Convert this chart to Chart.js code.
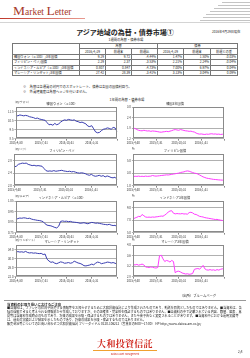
<!DOCTYPE html>
<html lang="ja">
<head>
<meta charset="utf-8">
<title>Market Letter</title>
<script src="https://cdn.jsdelivr.net/npm/chart.js@4.4.0/dist/chart.umd.min.js"></script>
<style>
  html, body { margin: 0; padding: 0; background: #fff; }
  body { width: 250px; height: 358px; position: relative; overflow: hidden;
         font-family: "Noto Sans CJK JP", "Noto Sans", sans-serif; color: #222; }
  .abs { position: absolute; white-space: nowrap; }
  .logo-head { left: 13px; top: 3px; font-family: "Liberation Serif", serif; color: #a83a2c; font-size: 9.5px; }
  .logo-head b { font-weight: normal; font-size: 13.5px; }
  .redline { left: 0; top: 18px; width: 85px; height: 1px; background: linear-gradient(to right, #c0392b, #e89a90); }
  .grayline { left: 0; top: 22px; width: 250px; height: 1px; background: #d4d4d4; }
  .stripe { height: 1px; background: #c4c4c4; }
  .title { left: 0; width: 250px; top: 27px; text-align: center; font-size: 7px; font-weight: bold; }
  .date { left: 212px; top: 29px; font-size: 3.2px; }
  .small { font-size: 3.3px; }
  table { position: absolute; left: 12px; top: 43px; width: 225px; border-collapse: collapse;
          font-size: 3.2px; table-layout: fixed; }
  td { border: 1px solid #777; height: 4.4px; padding: 0 1px; line-height: 4px; text-align: right; overflow: hidden; white-space: nowrap; }
  td.c { text-align: center; }
  td.l { text-align: left; }
  canvas { position: absolute; }
  .unit { font-size: 2.8px; color: #333; }
  .foot { left: 7px; top: 306px; width: 237px; font-size: 3.1px; line-height: 4.1px; white-space: normal; }
  .daiwa { left: 0; width: 250px; top: 337px; text-align: center; font-family: "Noto Serif CJK JP", "Liberation Serif", serif;
           font-weight: bold; font-size: 9px; color: #d0251c; letter-spacing: 0.3px; }
</style>
</head>
<body>
<div class="abs logo-head"><b>M</b>arket <b>L</b>etter</div>
<div class="abs redline"></div>
<div class="abs grayline"></div>
<div class="abs stripe" style="left:222px;top:2px;width:28px"></div>
<div class="abs stripe" style="left:218px;top:5px;width:32px"></div>
<div class="abs stripe" style="left:214px;top:8px;width:36px"></div>
<div class="abs stripe" style="left:210px;top:11px;width:40px"></div>
<div class="abs stripe" style="left:206px;top:14px;width:44px"></div>
<div class="abs stripe" style="left:203px;top:17px;width:47px"></div>
<div class="abs stripe" style="left:200px;top:20px;width:50px"></div>

<div class="abs title">アジア地域の為替・債券市場①</div>
<div class="abs date">2016年4月29日現在</div>
<div class="abs small" style="left:0;width:252px;top:37px;text-align:center">1週間の為替・債券市場</div>

<table id="tbl">
  <colgroup>
    <col style="width:67px"><col style="width:26px"><col style="width:26px"><col style="width:26px">
    <col style="width:26px"><col style="width:27px"><col style="width:27px">
  </colgroup>
  <tr><td rowspan="2"></td><td class="c" colspan="3">為替</td><td class="c" colspan="3">債券</td></tr>
  <tr><td class="c">2016/4/29</td><td class="c">前週末</td><td class="c">前週比</td><td class="c">2016/4/29</td><td class="c">前週末</td><td class="c">前週との差</td></tr>
</table>

<div class="abs small" style="left:23px;top:84px">※　為替は各通貨の対円でのスポットレート、債券は各国の国債利回り。</div>
<div class="abs small" style="left:23px;top:89px">※　外貨建資産は為替ヘッジを行いません。</div>
<div class="abs small" style="left:0;width:254px;top:97px;text-align:center">1年間の為替・債券市場</div>

<div id="charts"></div>

<div class="abs small" style="left:180px;top:293px">（出所）ブルームバーグ</div>
<div class="abs" style="left:4px;top:300px;width:242px;height:1px;background:#999"></div>
<div class="abs" style="left:7px;top:302px;font-size:3.4px;font-weight:bold">当資料のお取り扱いにおけるご注意</div>
<div class="abs foot">■当資料は、ファンドの状況や関連する情報等をお知らせするために大和投資信託により作成されたものであり、勧誘を目的としたものではありません。■当資料は、各種の信頼できると考えられる情報源から作成しておりますが、その正確性・完全性を保証するものではありません。■当資料の中で記載されている内容、数値、図表、意見等は当資料作成時点のものであり、将来の成果を示唆・保証するものではありません。また今後予告なく変更されることがあります。■当資料中における運用実績等は、過去の実績および結果を示したものであり、将来の成果を示唆・保証するものではありません。<br>販売会社等についてのお問い合わせ⇒大和投資信託 フリーダイヤル 0120-106212（営業日の9:00～17:00） HP http://www.daiwa-am.co.jp/</div>
<div class="abs daiwa">大和投資信託</div>
<div class="abs" style="left:93px;top:350px;width:64px;height:1px;background:#f0a030"></div>
<div class="abs" style="left:0;width:250px;top:352px;text-align:center;font-size:2.4px;color:#d0251c">Daiwa Asset Management</div>
<div class="abs" style="left:238px;top:350px;font-size:3px">2/8</div>

<script>
// 1週間の為替・債券市場
const tableRows = ['韓国ウォン（×100）/3年国債', 'フィリピン・ペソ/国債', 'インドネシア・ルピア（×100）/3年国債', 'マレーシア・リンギット/3年国債'];
const fxNow = ['9.29', '2.29', '0.807', '27.42'];
const fxPrev = ['9.72', '2.37', '0.847', '28.39'];
const fxChg = ['-4.44%', '-3.53%', '-4.73%', '-3.41%'];
const bondNow = ['1.47%', '2.21%', '7.00%', '3.13%'];
const bondPrev = ['1.50%', '2.24%', '6.97%', '3.04%'];
const bondChg = ['-0.03%', '-0.04%', '0.04%', '0.09%'];

// 1年間（週次）の推移
const tickLabels = ['2015/4/30', '2015/7/31', '2015/10/31', '2016/1/31'];
const krw = [11.10, 11.05, 11.15, 11.10, 11.05, 11.10, 11.05, 10.95, 10.90, 10.85, 10.75, 10.80, 10.70, 10.65,
  10.60, 10.55, 10.30, 10.05, 10.10, 10.00, 10.20, 10.05, 10.15, 10.35, 10.50, 10.60, 10.55, 10.65, 10.60, 10.55, 10.60,
  10.45, 10.40, 10.30, 10.35, 10.25, 10.15, 9.90, 9.85, 9.95, 9.60, 9.25, 9.15, 9.20, 9.40, 9.55, 9.60, 9.70, 9.65,
  9.55, 9.75, 9.70, 9.29];
const krBond = [1.80, 1.78, 1.72, 1.68, 1.66, 1.65, 1.68, 1.66, 1.64, 1.65, 1.62, 1.64, 1.63, 1.62,
  1.60, 1.58, 1.57, 1.59, 1.60, 1.62, 1.60, 1.63, 1.66, 1.70, 1.72, 1.70, 1.68, 1.72, 1.70, 1.67, 1.65,
  1.64, 1.62, 1.63, 1.60, 1.58, 1.52, 1.48, 1.46, 1.47, 1.45, 1.44, 1.46, 1.45, 1.47, 1.48, 1.46, 1.47, 1.45,
  1.46, 1.44, 1.45, 1.47];
const php = [2.60, 2.62, 2.68, 2.70, 2.72, 2.71, 2.72, 2.68, 2.66, 2.64, 2.65, 2.63, 2.64, 2.63,
  2.62, 2.55, 2.48, 2.46, 2.47, 2.46, 2.48, 2.46, 2.47, 2.48, 2.49, 2.47, 2.46, 2.45, 2.46, 2.44, 2.45,
  2.43, 2.41, 2.40, 2.41, 2.40, 2.38, 2.35, 2.33, 2.36, 2.32, 2.30, 2.31, 2.33, 2.30, 2.32, 2.28, 2.31, 2.29,
  2.26, 2.25, 2.27, 2.20];
const phBond = [2.45, 2.50, 2.48, 2.52, 2.47, 2.50, 2.46, 2.52, 2.48, 2.50, 2.52, 2.62, 2.55, 2.52,
  2.55, 2.58, 2.62, 2.65, 2.68, 2.72, 2.70, 2.75, 2.80, 2.85, 2.90, 2.95, 3.00, 3.10, 3.15, 3.20, 3.30,
  3.35, 3.30, 3.20, 3.10, 3.00, 2.95, 2.85, 2.70, 2.55, 2.40, 2.30, 2.20, 2.15, 2.10, 2.05, 2.00, 1.98, 1.95,
  1.92, 1.90, 1.88, 1.85];
const idr = [0.875, 0.885, 0.890, 0.888, 0.892, 0.890, 0.885, 0.888, 0.880, 0.875, 0.872, 0.868, 0.866, 0.862,
  0.855, 0.835, 0.822, 0.818, 0.815, 0.808, 0.800, 0.795, 0.812, 0.858, 0.862, 0.858, 0.860, 0.855, 0.858, 0.852, 0.850,
  0.848, 0.845, 0.840, 0.842, 0.845, 0.840, 0.835, 0.842, 0.848, 0.845, 0.840, 0.842, 0.838, 0.835, 0.830, 0.828, 0.825, 0.830,
  0.822, 0.818, 0.820, 0.807];
const idBond = [7.20, 7.35, 7.45, 7.60, 7.55, 7.90, 7.70, 7.50, 7.45, 7.48, 7.45, 7.50, 7.47, 7.52,
  7.55, 7.60, 7.65, 7.62, 7.80, 8.00, 8.30, 8.45, 8.50, 8.10, 8.00, 8.05, 8.02, 8.00, 8.05, 7.98, 8.00,
  7.95, 8.20, 8.25, 8.15, 7.95, 7.90, 7.75, 7.60, 7.55, 7.50, 7.40, 7.35, 7.30, 7.25, 7.20, 7.15, 7.10, 7.12,
  7.05, 7.00, 6.95, 6.90];
const myr = [33.0, 33.2, 33.0, 33.1, 32.9, 33.3, 32.8, 32.6, 32.7, 32.5, 32.6, 32.4, 32.3, 32.4,
  31.9, 32.1, 29.8, 29.0, 28.4, 28.6, 28.0, 27.8, 28.2, 28.6, 28.4, 28.0, 28.1, 28.3, 28.0, 28.2, 28.9,
  28.5, 28.1, 27.9, 27.5, 26.9, 26.8, 27.0, 27.2, 27.6, 27.3, 28.0, 28.5, 28.3, 27.8, 28.0, 28.2, 28.5, 28.4,
  28.1, 28.3, 28.0, 27.6];
const myBond = [3.26, 3.25, 3.27, 3.24, 3.26, 3.28, 3.25, 3.17, 3.16, 3.15, 3.17, 3.16, 3.14, 3.13,
  3.15, 3.60, 3.62, 3.48, 3.38, 3.42, 3.40, 3.36, 3.42, 3.38, 2.95, 3.00, 3.01, 2.98, 2.94, 2.92, 2.90,
  2.91, 2.89, 2.90, 2.92, 3.08, 3.10, 3.11, 3.09, 3.15, 3.23, 3.10, 3.06, 3.05, 3.07, 3.05, 3.06, 3.04, 3.07,
  3.05, 3.08, 3.10, 3.10];

// build the table body
const tbl = document.getElementById('tbl');
tableRows.forEach(function (name, i) {
    const tr = document.createElement('tr');
    tr.innerHTML = '<td class="l">' + name + '</td><td>' + fxNow[i] + '</td><td>' + fxPrev[i] + '</td><td>' + fxChg[i] +
        '</td><td>' + bondNow[i] + '</td><td>' + bondPrev[i] + '</td><td>' + bondChg[i] + '</td>';
    tbl.appendChild(tr);
});

// weekly category labels from 2015/4/30
const weeks = [];
for (let i = 0; i < krw.length; i++) {
    const d = new Date(2015, 3, 30 + i * 7);
    weeks.push(d.getFullYear() + '/' + (d.getMonth() + 1) + '/' + d.getDate());
}

// thin frame round the plot area
const frame = {
    id: 'frame',
    afterDraw(chart) {
        const a = chart.chartArea, c = chart.ctx;
        c.save();
        c.strokeStyle = '#8a8a8a';
        c.lineWidth = 1;
        c.strokeRect(Math.round(a.left) + 0.5, Math.round(a.top) + 0.5, Math.round(a.right - a.left) - 1, Math.round(a.bottom - a.top) - 1);
        c.restore();
    }
};

const FONT = '"Noto Sans CJK JP", "Noto Sans", sans-serif';
const BLUE = '#3a3eb0';
const PINK = '#ff3cff';

function makeChart(pos, title, unit, data, color, min, max, step, dec) {
    const holder = document.getElementById('charts');
    const cv = document.createElement('canvas');
    cv.width = pos.w; cv.height = pos.h;
    cv.style.left = pos.x + 'px'; cv.style.top = pos.y + 'px';
    holder.appendChild(cv);
    const u = document.createElement('div');
    u.className = 'abs unit';
    u.style.left = (pos.x + pos.ux) + 'px'; u.style.top = (pos.y - 1) + 'px';
    u.textContent = unit;
    holder.appendChild(u);

    return new Chart(cv.getContext('2d'), {
        type: 'line',
        data: {
            labels: weeks,
            datasets: [{
                data: data,
                borderColor: color,
                borderWidth: 1,
                pointRadius: 0,
                tension: 0,
                fill: false
            }]
        },
        options: {
            responsive: false,
            animation: false,
            layout: { padding: { top: 0, right: 3, bottom: 0, left: 0 } },
            plugins: {
                legend: { display: false },
                tooltip: { enabled: false },
                title: {
                    display: true,
                    text: title,
                    color: '#333',
                    font: { family: FONT, size: 3.2, weight: 'normal' },
                    padding: { top: 1, bottom: 1.5 }
                }
            },
            scales: {
                x: {
                    offset: false,
                    grid: {
                        drawOnChartArea: false,
                        tickLength: 2,
                        color: function (ctx) { return ctx.index % 13 === 0 ? '#8a8a8a' : 'rgba(0,0,0,0)'; }
                    },
                    border: { display: false },
                    ticks: {
                        autoSkip: false,
                        maxRotation: 0,
                        padding: 0.5,
                        color: '#333',
                        font: { family: FONT, size: 2.8 },
                        callback: function (v, i) { return (i % 13 === 0 && i / 13 < tickLabels.length) ? tickLabels[i / 13] : ''; }
                    }
                },
                y: {
                    min: min,
                    max: max,
                    grid: { color: '#b0b0b0', lineWidth: 1, tickLength: 1.5, drawTicks: true },
                    border: { display: false },
                    ticks: {
                        stepSize: step,
                        padding: 1,
                        color: '#333',
                        font: { family: FONT, size: 2.8 },
                        callback: function (v) { return v.toFixed(dec); }
                    }
                }
            }
        },
        plugins: [frame]
    });
}

const L = 7, R = 126, WL = 113, WR = 101;
const tops = [101, 148, 195, 239], H = 44;

makeChart({ x: L, y: tops[0], w: WL, h: H, ux: 6 }, '韓国ウォン（×100）', '（円/ウォン）', krw, BLUE, 8.5, 12.0, 0.5, 1);
makeChart({ x: R, y: tops[0], w: WR, h: H, ux: 6 }, '韓国3年国債', '%', krBond, PINK, 1.2, 3.0, 0.3, 1);
makeChart({ x: L, y: tops[1], w: WL, h: H, ux: 6 }, 'フィリピン・ペソ', '（円/ペソ）', php, BLUE, 2.0, 3.0, 0.2, 1);
makeChart({ x: R, y: tops[1], w: WR, h: H, ux: 6 }, 'フィリピン国債', '%', phBond, PINK, 1.0, 6.0, 1.0, 1);
makeChart({ x: L, y: tops[2], w: WL, h: H, ux: 6 }, 'インドネシア・ルピア（×100）', '（円/ルピア）', idr, BLUE, 0.75, 1.05, 0.05, 2);
makeChart({ x: R, y: tops[2], w: WR, h: H, ux: 6 }, 'インドネシア3年国債', '%', idBond, PINK, 5.0, 10.0, 1.0, 1);
makeChart({ x: L, y: tops[3], w: WL, h: H, ux: 6 }, 'マレーシア・リンギット', '（円/リンギット）', myr, BLUE, 22, 36, 2, 1);
makeChart({ x: R, y: tops[3], w: WR, h: H, ux: 6 }, 'マレーシア3年国債', '%', myBond, PINK, 2.8, 4.0, 0.2, 1);
</script>
</body>
</html>
